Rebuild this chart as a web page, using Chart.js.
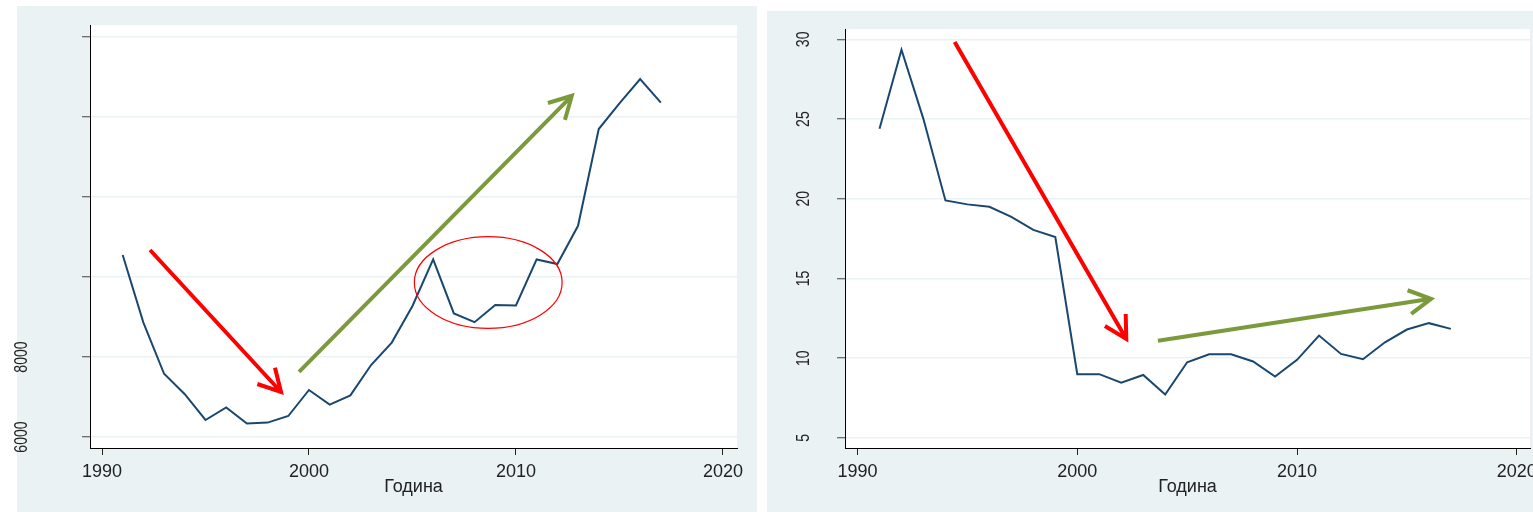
<!DOCTYPE html>
<html>
<head>
  <meta charset="UTF-8" />
  <title>Година</title>
  <style>
    body { margin: 0; width: 1533px; height: 512px; overflow: hidden; background: #fff; position: relative; }
    .bg { position: absolute; background: #eaf2f3; }
    .wrap { position: absolute; top: 0; height: 512px; }
  </style>
</head>
<body>
  <div class="bg" style="left:17px; top:6px; width:740px; height:506px;"></div>
  <div class="bg" style="left:767px; top:11px; width:766px; height:501px;"></div>
  <div class="wrap" style="left:0; width:762px;"><canvas id="leftChart"></canvas></div>
  <div class="wrap" style="left:762px; width:800px;"><canvas id="rightChart"></canvas></div>
  <script src="https://cdn.jsdelivr.net/npm/chart.js"></script>
  <script>
    const years = [1991, 1992, 1993, 1994, 1995, 1996, 1997, 1998, 1999, 2000, 2001, 2002, 2003, 2004,
                   2005, 2006, 2007, 2008, 2009, 2010, 2011, 2012, 2013, 2014, 2015, 2016, 2017];
    const leftValues = [10550, 8860, 7580, 7070, 6425, 6740, 6335, 6360, 6525, 7175, 6810, 7040, 7800, 8360,
                        9275, 10440, 9090, 8870, 9300, 9290, 10440, 10325, 11280, 13700, 14340, 14950, 14360];
    const rightValues = [24.4, 29.35, 25.0, 19.9, 19.65, 19.5, 18.87, 18.05, 17.6, 9.0, 9.0, 8.47, 8.95, 7.72,
                         9.75, 10.25, 10.25, 9.8, 8.85, 9.9, 11.42, 10.27, 9.94, 11.0, 11.8, 12.2, 11.84];

    const xTicks = [1990, 2000, 2010, 2020];
    const leftYTicks = [6000, 8000, 10000, 12000, 14000, 16000];
    const leftYLabels = ['6000', '8000', '', '', '', ''];
    const rightYTicks = [5, 10, 15, 20, 25, 30];
    const rightYLabels = ['5', '10', '15', '20', '25', '30'];
    const axisTitle = 'Година';

    // arrows and the ellipse are given in data units
    const leftArrows = [
      { from: [1992.32, 10675], to: [1998.65, 7125], color: '#ff0000' },
      { from: [1999.52, 7630], to: [2012.7, 14530], color: '#7b9a3c' }
    ];
    const leftEllipse = { center: [2008.66, 9862], rx: 3.57, ry: 1145 };
    const rightArrows = [
      { from: [1994.42, 29.84], to: [2002.23, 11.21], color: '#ff0000' },
      { from: [2003.67, 11.1], to: [2016.1, 13.73], color: '#7b9a3c' }
    ];

    const FONT = '"Liberation Sans", Arial, sans-serif';

    const decor = {
      id: 'decor',
      beforeDraw(chart) {
        const a = chart.chartArea, ctx = chart.ctx;
        ctx.save();
        ctx.fillStyle = '#ffffff';
        ctx.fillRect(a.left, a.top, a.right - a.left, a.bottom - a.top);
        ctx.restore();
      },
      afterDatasetsDraw(chart, args, opts) {
        const ctx = chart.ctx, xs = chart.scales.x, ys = chart.scales.y;
        ctx.save();
        if (opts.ellipse) {
          const e = opts.ellipse;
          const cx = xs.getPixelForValue(e.center[0]), cy = ys.getPixelForValue(e.center[1]);
          const rx = Math.abs(xs.getPixelForValue(e.center[0] + e.rx) - cx);
          const ry = Math.abs(ys.getPixelForValue(e.center[1] + e.ry) - cy);
          ctx.strokeStyle = '#ff0000';
          ctx.lineWidth = 1.2;
          ctx.beginPath();
          ctx.ellipse(cx, cy, rx, ry, 0, 0, Math.PI * 2);
          ctx.stroke();
        }
        (opts.arrows || []).forEach(ar => {
          const x1 = xs.getPixelForValue(ar.from[0]), y1 = ys.getPixelForValue(ar.from[1]);
          const x2 = xs.getPixelForValue(ar.to[0]), y2 = ys.getPixelForValue(ar.to[1]);
          const ang = Math.atan2(y2 - y1, x2 - x1);
          const head = 25, spread = 0.5;
          ctx.strokeStyle = ar.color;
          ctx.lineWidth = 4;
          ctx.lineCap = 'butt';
          ctx.beginPath();
          ctx.moveTo(x1, y1);
          ctx.lineTo(x2, y2);
          ctx.moveTo(x2 - head * Math.cos(ang - spread), y2 - head * Math.sin(ang - spread));
          ctx.lineTo(x2, y2);
          ctx.lineTo(x2 - head * Math.cos(ang + spread), y2 - head * Math.sin(ang + spread));
          ctx.stroke();
        });
        ctx.restore();
      },
      afterDraw(chart, args, opts) {
        const ctx = chart.ctx, ys = chart.scales.y, a = chart.chartArea;
        ctx.save();
        ctx.fillStyle = '#222';
        ctx.textAlign = 'center';
        ctx.textBaseline = 'middle';
        ctx.font = '19px ' + FONT;
        opts.yTicks.forEach((v, i) => {
          const label = opts.yLabels[i];
          if (!label) return;
          ctx.save();
          ctx.translate(a.left - opts.labelOffset, ys.getPixelForValue(v));
          ctx.rotate(-Math.PI / 2);
          ctx.scale(0.74, 1);
          ctx.fillText(label, 0, 0);
          ctx.restore();
        });
        ctx.font = '18px ' + FONT;
        ctx.fillText(opts.title, (a.left + a.right) / 2, a.bottom + 39);
        ctx.restore();
      }
    };

    function makeConfig(values, xMin, xMax, yMin, yMax, yTicks, yLabels, yWidth, pad, extra) {
      return {
        type: 'line',
        data: {
          datasets: [{
            data: years.map((yr, i) => ({ x: yr, y: values[i] })),
            borderColor: '#1a476f',
            borderWidth: 2,
            pointRadius: 0,
            tension: 0,
            fill: false
          }]
        },
        options: {
          responsive: true,
          maintainAspectRatio: false,
          animation: false,
          events: [],
          layout: { padding: pad },
          plugins: {
            legend: { display: false },
            tooltip: { enabled: false },
            decor: Object.assign({ yTicks: yTicks, yLabels: yLabels, title: axisTitle }, extra)
          },
          scales: {
            x: {
              type: 'linear', min: xMin, max: xMax,
              afterBuildTicks: s => { s.ticks = xTicks.map(v => ({ value: v })); },
              afterFit: s => { s.height = 64; },
              ticks: { color: '#222', font: { size: 18, family: FONT }, padding: 6, maxRotation: 0, callback: v => String(v) },
              grid: { drawOnChartArea: false, tickLength: 7, tickColor: '#222' },
              border: { color: '#000', width: 1 }
            },
            y: {
              type: 'linear', min: yMin, max: yMax,
              afterBuildTicks: s => { s.ticks = yTicks.map(v => ({ value: v })); },
              afterFit: s => { s.width = yWidth; },
              ticks: { display: false },
              grid: { color: '#eaf2f3', lineWidth: 1.5, tickLength: 8, tickColor: '#444', tickWidth: 1 },
              border: { color: '#000', width: 1 }
            }
          }
        },
        plugins: [decor]
      };
    }

    new Chart(document.getElementById('leftChart'),
      makeConfig(leftValues, 1989.42, 2020.68, 5725, 16300, leftYTicks, leftYLabels, 90,
        { left: 0, top: 25, right: 25, bottom: 0 },
        { arrows: leftArrows, ellipse: leftEllipse, labelOffset: 68 }));

    new Chart(document.getElementById('rightChart'),
      makeConfig(rightValues, 1989.43, 2020.6, 4.37, 30.65, rightYTicks, rightYLabels, 83,
        { left: 0, top: 29, right: 32, bottom: 0 },
        { arrows: rightArrows, labelOffset: 41 }));
  </script>
</body>
</html>
